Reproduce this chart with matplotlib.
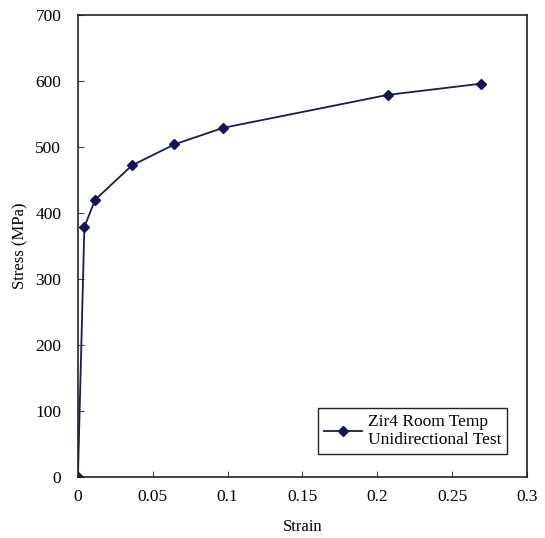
import matplotlib.pyplot as plt

strain = [0.0, 0.0043, 0.0115, 0.036, 0.0645, 0.097, 0.207, 0.2695]
stress = [0, 379, 420, 472, 504, 529, 579, 596]

xticks = [0, 0.05, 0.1, 0.15, 0.2, 0.25, 0.3]
xtick_labels = ["0", "0.05", "0.1", "0.15", "0.2", "0.25", "0.3"]
yticks = [0, 100, 200, 300, 400, 500, 600, 700]

plt.rcParams['font.family'] = ['Liberation Serif', 'DejaVu Serif']

fig = plt.figure(figsize=(5.45, 5.38), dpi=100)
ax = fig.add_axes([0.143, 0.1134, 0.824, 0.8587])

ax.plot(strain, stress, color='#1a1a55', lw=1.3, marker='D', markersize=5.5,
        markerfacecolor='#14145e', markeredgecolor='#14145e',
        label="Zir4 Room Temp\nUnidirectional Test")

ax.set_xlim(0, 0.3)
ax.set_ylim(0, 700)
ax.set_xticks(xticks)
ax.set_xticklabels(xtick_labels)
ax.set_yticks(yticks)
ax.tick_params(direction='in', length=4, labelsize=12.5, color='#444444')
ax.tick_params(axis='x', pad=9)
ax.tick_params(axis='y', pad=12)
for s in ax.spines.values():
    s.set_linewidth(1.2)
    s.set_color('#222222')

ax.set_xlabel("Strain", fontsize=12, labelpad=10)
ax.set_ylabel("Stress (MPa)", fontsize=12, labelpad=5)

leg = ax.legend(loc='lower right', bbox_to_anchor=(0.975, 0.03), fontsize=12.5,
                fancybox=False, framealpha=1, edgecolor='#222222',
                handlelength=2.2, handletextpad=0.3, borderpad=0.35,
                labelspacing=0.2)
leg.get_frame().set_linewidth(1.0)

fig.savefig("out.png", dpi=100)
